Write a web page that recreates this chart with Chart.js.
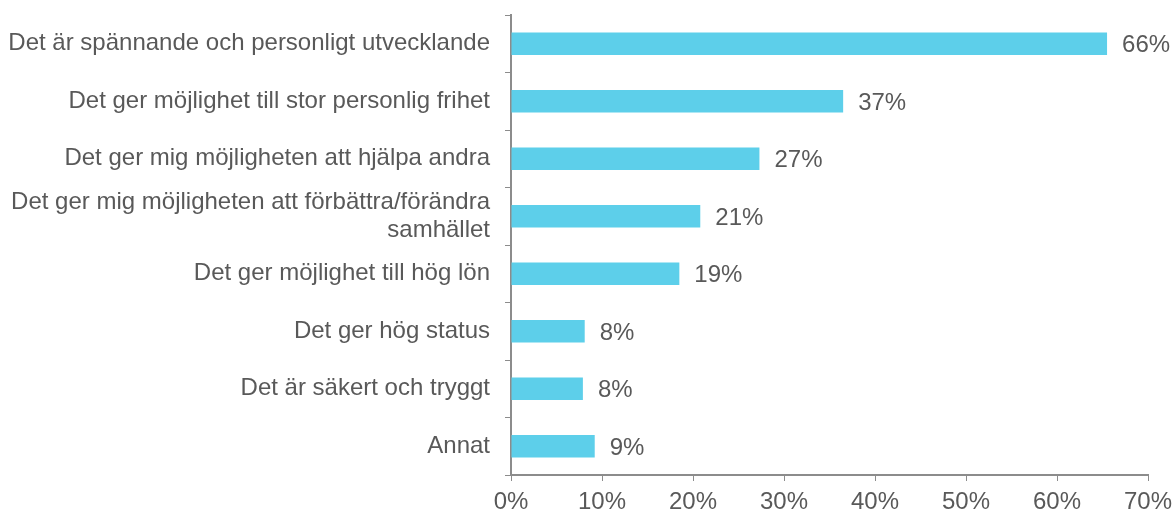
<!DOCTYPE html>
<html>
<head>
<meta charset="utf-8">
<script src="https://cdn.jsdelivr.net/npm/chart.js@4/dist/chart.umd.min.js"></script>
<style>
  html, body { margin: 0; padding: 0; background: #fff; }
  #wrap { width: 1174px; height: 519px; }
</style>
</head>
<body>
<div id="wrap"><canvas id="motivChart" width="1174" height="519"></canvas></div>
<script>
// Svarsalternativ (kategorier)
const categories = [
    'Det är spännande och personligt utvecklande',
    'Det ger möjlighet till stor personlig frihet',
    'Det ger mig möjligheten att hjälpa andra',
    ['Det ger mig möjligheten att förbättra/förändra', 'samhället'],
    'Det ger möjlighet till hög lön',
    'Det ger hög status',
    'Det är säkert och tryggt',
    'Annat'
];

// Andel svarande (%)
const shares = [65.5, 36.5, 27.3, 20.8, 18.5, 8.1, 7.9, 9.2];

// Skala x-axel
const xTicks = [0, 10, 20, 30, 40, 50, 60, 70];

const textColor = '#595959';
const axisColor = '#8c8c8c';
const fontFamily = '"Liberation Sans", Arial, sans-serif';

// Etiketter till höger om staplarna
const valueLabels = {
    id: 'valueLabels',
    afterDatasetsDraw(chart) {
        const { ctx } = chart;
        const meta = chart.getDatasetMeta(0);
        ctx.save();
        ctx.font = '24px ' + fontFamily;
        ctx.fillStyle = textColor;
        ctx.textAlign = 'left';
        ctx.textBaseline = 'middle';
        meta.data.forEach((bar, i) => {
            ctx.fillText(Math.round(shares[i]) + '%', bar.x + 15, bar.y + 2);
        });
        ctx.restore();
    }
};

const ctx = document.getElementById('motivChart').getContext('2d');
const motivChart = new Chart(ctx, {
    type: 'bar',
    data: {
        labels: categories,
        datasets: [{
            data: shares,
            backgroundColor: '#5dcfea',
            barPercentage: 0.39,
            categoryPercentage: 1
        }]
    },
    options: {
        indexAxis: 'y',
        responsive: false,
        animation: false,
        layout: { padding: { top: 15, right: 26, left: 0, bottom: 0 } },
        plugins: {
            legend: { display: false },
            tooltip: { enabled: false }
        },
        scales: {
            x: {
                min: 0,
                max: 70,
                afterBuildTicks(scale) {
                    scale.ticks = xTicks.map(v => ({ value: v }));
                },
                afterFit(scale) {
                    scale.height = 44;
                    scale.paddingRight = 26;
                },
                grid: { drawOnChartArea: false, drawTicks: true, tickLength: 6, color: axisColor },
                border: { display: true, color: axisColor, width: 2 },
                ticks: {
                    color: textColor,
                    padding: 7,
                    maxRotation: 0,
                    font: { family: fontFamily, size: 24 },
                    callback: v => v + '%'
                }
            },
            y: {
                afterFit(scale) {
                    scale.width = 511;
                    scale.paddingTop = 0;
                    scale.paddingBottom = 0;
                },
                grid: { drawOnChartArea: false, drawTicks: true, tickLength: 6, color: axisColor, offset: true },
                border: { display: true, color: axisColor, width: 2 },
                ticks: {
                    color: textColor,
                    padding: 15,
                    autoSkip: false,
                    font: { family: fontFamily, size: 24, lineHeight: 1.17 }
                }
            }
        }
    },
    plugins: [valueLabels]
});
</script>
</body>
</html>
